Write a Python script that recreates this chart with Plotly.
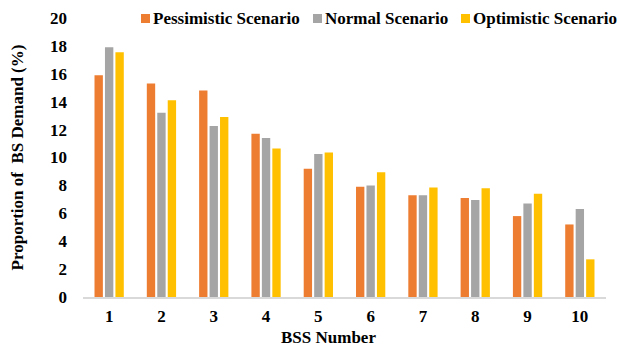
import plotly.graph_objects as go

categories = ["1", "2", "3", "4", "5", "6", "7", "8", "9", "10"]
pessimistic = [15.9, 15.3, 14.8, 11.7, 9.2, 7.9, 7.3, 7.1, 5.8, 5.2]
normal = [17.9, 13.2, 12.25, 11.4, 10.25, 8.0, 7.3, 6.95, 6.7, 6.3]
optimistic = [17.55, 14.1, 12.9, 10.65, 10.35, 8.95, 7.85, 7.8, 7.4, 2.7]
series_names = ["Pessimistic Scenario", "Normal Scenario", "Optimistic Scenario"]
colors = ["#ED7D31", "#A5A5A5", "#FFC000"]
y_ticks = [0, 2, 4, 6, 8, 10, 12, 14, 16, 18, 20]

FONT = "Liberation Serif"
W, H = 619, 347
ML, MR, MT, MB = 83, 13, 18, 50
PW = W - ML - MR
PH = H - MT - MB

fig = go.Figure()
for name, vals, c in zip(series_names, [pessimistic, normal, optimistic], colors):
    fig.add_trace(go.Bar(x=categories, y=vals, name=name, showlegend=False,
                         marker=dict(color=c, line=dict(width=0))))

# manual legend (pixel positions converted to paper coords)
legend_px = [141, 313, 461]
legend_y_px = 18.5
for name, c, px in zip(series_names, colors, legend_px):
    x0 = (px - ML) / PW
    x1 = (px + 9 - ML) / PW
    yc = 1 + (MT - legend_y_px) / PH
    half = 4.5 / PH
    fig.add_shape(type="rect", xref="paper", yref="paper", x0=x0, x1=x1,
                  y0=yc - half, y1=yc + half, fillcolor=c, line=dict(width=0))
    fig.add_annotation(xref="paper", yref="paper", x=(px + 11 - ML) / PW, y=yc,
                       xanchor="left", yanchor="middle", showarrow=False, text=name,
                       borderpad=0,
                       font=dict(family=FONT, size=17, color="black", weight="bold"))

# x-axis title as annotation for exact placement
fig.add_annotation(xref="paper", yref="paper", x=(328 - ML) / PW, y=-(337.5 - MT - PH) / PH,
                   xanchor="center", yanchor="middle", showarrow=False, text="BSS Number",
                   borderpad=0,
                   font=dict(family=FONT, size=17, color="black", weight="bold"))

fig.update_layout(
    width=W, height=H,
    margin=dict(l=ML, r=MR, t=MT, b=MB, autoexpand=False),
    paper_bgcolor="white", plot_bgcolor="white",
    barmode="group", bargap=0.4, bargroupgap=0.2,
    font=dict(family=FONT, size=17, color="black", weight="bold"),
    showlegend=False,
)
fig.update_xaxes(showline=True, linecolor="#D9D9D9", linewidth=1.5, ticks="", automargin=False,
                 tickfont=dict(family=FONT, size=17, weight="bold"), ticklabelstandoff=3)
fig.update_yaxes(range=[0, 20], tickvals=y_ticks, showgrid=False, zeroline=False, showline=False,
                 automargin=False,
                 tickfont=dict(family=FONT, size=17, weight="bold"), ticklabelstandoff=15,
                 title=dict(text="Proportion of  BS Demand (%)", font=dict(family=FONT, size=17, weight="bold"), standoff=22))

fig.write_html("out.html")
